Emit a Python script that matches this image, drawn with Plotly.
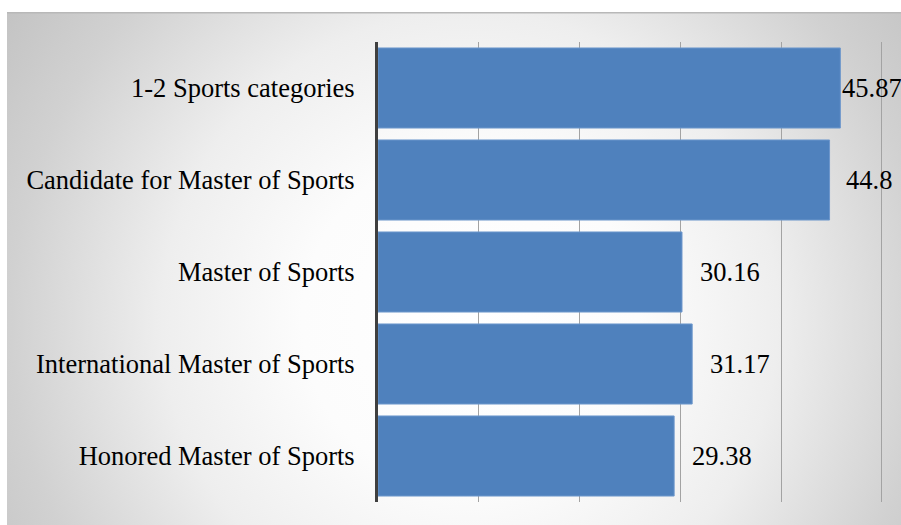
import base64
import plotly.graph_objects as go

# Sports qualification levels and their values
categories = [
    "1-2 Sports categories",
    "Candidate for Master of Sports",
    "Master of Sports",
    "International Master of Sports",
    "Honored Master of Sports",
]
values = [45.87, 44.8, 30.16, 31.17, 29.38]
label_offsets = [0, 14, 16, 16, 16]

X_MAX = 50.4  # a little past the last gridline so it is drawn

W, H = 901, 525
ML, MT, MB = 378, 42, 23
px_per_unit = 504 / 50
plot_w = round(px_per_unit * X_MAX)
MR = W - ML - plot_w
plot_h = H - MT - MB

# radial grey-to-white backdrop for the chart area (x 7..901, y 12..525)
bg_x0, bg_y0 = 7, 12
bg_w, bg_h = W - bg_x0, H - bg_y0
svg = f"""<svg xmlns='http://www.w3.org/2000/svg' width='{bg_w}' height='{bg_h}' viewBox='0 0 {bg_w} {bg_h}'>
<defs><radialGradient id='g' gradientUnits='userSpaceOnUse' cx='463' cy='308' r='560'>
<stop offset='0' stop-color='#ffffff'/>
<stop offset='0.3' stop-color='#fcfcfc'/>
<stop offset='0.55' stop-color='#eeeeee'/>
<stop offset='0.82' stop-color='#d1d1d1'/>
<stop offset='1' stop-color='#c3c3c3'/>
</radialGradient></defs>
<rect x='0' y='0' width='{bg_w}' height='{bg_h}' fill='url(#g)'/>
<rect x='0' y='0' width='{bg_w}' height='1.5' fill='#b8b8b8'/>
</svg>"""
src = "data:image/svg+xml;base64," + base64.b64encode(svg.encode()).decode()

serif = "Liberation Serif, Times New Roman, serif"

fig = go.Figure(
    go.Bar(
        x=values,
        y=categories,
        orientation="h",
        marker=dict(color="#4f81bd", line=dict(color="#6d97cc", width=1)),
        hoverinfo="x+y",
    )
)

for cat, val, off in zip(categories, values, label_offsets):
    fig.add_annotation(
        x=val, y=cat, text=f"{val:g}", showarrow=False,
        xanchor="left", yanchor="middle", xshift=off, yshift=0,
        font=dict(family=serif, size=26.5, color="#000000"),
    )

fig.add_layout_image(
    source=src, xref="paper", yref="paper",
    x=(bg_x0 - ML) / plot_w, y=(H - MB - bg_y0) / plot_h,
    sizex=bg_w / plot_w, sizey=bg_h / plot_h,
    xanchor="left", yanchor="top", sizing="stretch", layer="below",
)

fig.update_layout(
    width=W, height=H,
    margin=dict(l=ML, r=MR, t=MT, b=MB, pad=0),
    paper_bgcolor="#ffffff",
    plot_bgcolor="rgba(0,0,0,0)",
    bargap=0.13,
    showlegend=False,
    font=dict(family=serif, size=26.5, color="#000000"),
    xaxis=dict(
        range=[0, X_MAX], dtick=10, tick0=0,
        showgrid=True, gridcolor="#a3a3a3", gridwidth=1,
        zeroline=False, showline=False, showticklabels=False, ticks="",
        fixedrange=True,
    ),
    yaxis=dict(
        autorange="reversed", showgrid=False, zeroline=False,
        showline=True, linecolor="#3f3f3f", linewidth=3,
        ticks="", ticklabelstandoff=15, automargin=False,
        tickfont=dict(family=serif, size=26.5, color="#000000"),
        fixedrange=True,
    ),
)

fig.write_html("out.html")
